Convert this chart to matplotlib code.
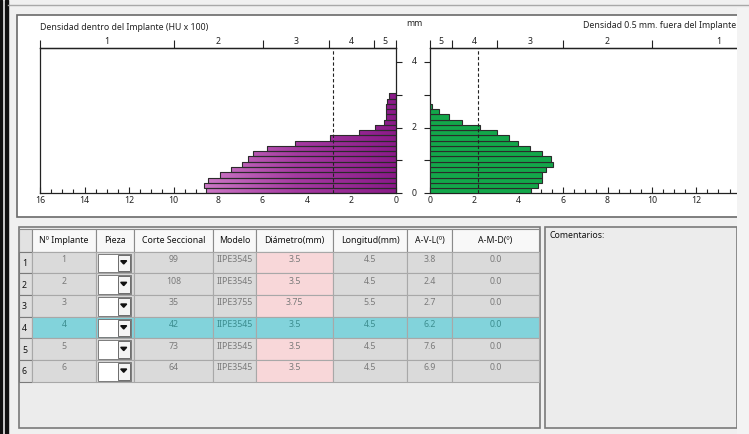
import matplotlib
matplotlib.use("Agg")
import matplotlib.pyplot as plt
import numpy as np
from matplotlib.patches import Rectangle, Polygon, PathPatch
from matplotlib.path import Path
from matplotlib.colors import LinearSegmentedColormap
from matplotlib.transforms import blended_transform_factory

plt.rcParams['font.family'] = ['Noto Sans', 'DejaVu Sans']

# ---- data ----
# density inside the implant (HU x 100), from the bottom slice upward
inside = [8.55, 8.63, 8.43, 7.90, 7.40, 6.90, 6.64, 6.41, 5.81, 4.53,
          2.95, 1.68, 0.94, 0.54, 0.46, 0.46, 0.46, 0.42, 0.33]
# density 0.5 mm outside the implant
outside = [4.55, 4.85, 5.03, 5.03, 5.23, 5.53, 5.44, 5.03, 4.50, 3.98,
           3.56, 3.03, 2.25, 1.46, 0.87, 0.39, 0.08]
slice_mm = 0.16
mean_inside = 2.82
mean_outside = 2.15
band_edges = [0, 1, 3, 6, 10, 16]
band_centers = [0.5, 2, 4.5, 8, 13]
band_labels = ['5', '4', '3', '2', '1']

cols = ['Nº Implante', 'Pieza', 'Corte Seccional', 'Modelo', 'Diámetro(mm)',
        'Longitud(mm)', 'A-V-L(º)', 'A-M-D(º)']
implante = ['1', '2', '3', '4', '5', '6']
corte = ['99', '108', '35', '42', '73', '64']
modelo = ['IIPE3545', 'IIPE3545', 'IIPE3755', 'IIPE3545', 'IIPE3545', 'IIPE3545']
diametro = ['3.5', '3.5', '3.75', '3.5', '3.5', '3.5']
longitud = ['4.5', '4.5', '5.5', '4.5', '4.5', '4.5']
avl = ['3.8', '2.4', '2.7', '6.2', '7.6', '6.9']
amd = ['0.0', '0.0', '0.0', '0.0', '0.0', '0.0']
selected = 3

W, H = 749, 434
FS = 6.3


def rect(x0, y0, x1, y1):
    return [x0 / W, 1 - y1 / H, (x1 - x0) / W, (y1 - y0) / H]


fig = plt.figure(figsize=(W / 100, H / 100), dpi=100, facecolor='#f0f0f0')

# background canvas in pixel coordinates
bg = fig.add_axes([0, 0, 1, 1], zorder=0)
bg.set_xlim(0, W)
bg.set_ylim(H, 0)
bg.axis('off')
bg.add_patch(Rectangle((0, 0), 2, H, color='#111111'))
bg.add_patch(Rectangle((5, 0), 2.5, H, color='#111111'))
bg.plot([8, W], [4.5, 4.5], color='#a8a8a8', lw=1)
bg.add_patch(Rectangle((17, 15), 730, 202, facecolor='white', edgecolor='#6a6a6a', lw=1.2))

# ---- table ----
xe = [19, 32, 96, 134, 213, 256, 333, 407, 452, 539]
ye = [229, 251.7, 273.3, 295, 316.7, 338.3, 360, 381.7]
bg.add_patch(Rectangle((19, 227), 521, 201, facecolor='#ececec', edgecolor='#7a7a7a', lw=1.2))
bg.add_patch(Rectangle((545, 227), 192, 201, facecolor='#ececec', edgecolor='#7a7a7a', lw=1.2))
bg.text(549, 236, 'Comentarios:', fontsize=FS, va='center', ha='left', color='#111111')

bg.add_patch(Rectangle((xe[0], ye[0]), xe[1] - xe[0], ye[1] - ye[0],
                       facecolor='#e2e2e2', edgecolor='#8a8a8a', lw=0.8))
for j, c in enumerate(cols):
    bg.add_patch(Rectangle((xe[j + 1], ye[0]), xe[j + 2] - xe[j + 1], ye[1] - ye[0],
                           facecolor='#f8f8f8', edgecolor='#8a8a8a', lw=0.8))
    bg.text((xe[j + 1] + xe[j + 2]) / 2, (ye[0] + ye[1]) / 2, c, fontsize=FS,
            ha='center', va='center', color='#111111')

rows = list(zip(implante, corte, modelo, diametro, longitud, avl, amd))
for i, r in enumerate(rows):
    y0, y1 = ye[i + 1], ye[i + 2]
    bg.add_patch(Rectangle((xe[0], y0), xe[1] - xe[0], y1 - y0,
                           facecolor='#dedede', edgecolor='#7a7a7a', lw=0.8))
    bg.text(xe[0] + 3, (y0 + y1) / 2 + 1, str(i + 1), fontsize=FS, ha='left',
            va='center', color='#111111')
    vals = [r[0], None, r[1], r[2], r[3], r[4], r[5], r[6]]
    for j, v in enumerate(vals):
        x0, x1 = xe[j + 1], xe[j + 2]
        if i == selected:
            fc, tc = '#82d3db', '#3c8d8f'
        elif j == 4:
            fc, tc = '#f8d7d9', '#7a7a7a'
        else:
            fc, tc = '#dadada', '#7a7a7a'
        bg.add_patch(Rectangle((x0, y0), x1 - x0, y1 - y0, facecolor=fc,
                               edgecolor='#a8a8a8', lw=0.8))
        if v is None:
            # combo box with its drop-down button
            bg.add_patch(Rectangle((x0 + 1.5, y0 + 2), 33, y1 - y0 - 3,
                                   facecolor='white', edgecolor='#6a6a6a', lw=0.6))
            bg.add_patch(Rectangle((x0 + 22, y0 + 3), 11.5, y1 - y0 - 5,
                                   facecolor='#f4f4f4', edgecolor='#555555', lw=0.6))
            cx, cy = x0 + 27.7, y0 + 10.5
            bg.add_patch(Polygon([[cx - 3, cy - 1.5], [cx + 3, cy - 1.5], [cx, cy + 1.8]],
                                 closed=True, color='#111111'))
        else:
            bg.text((x0 + x1) / 2, (y0 + y1) / 2 - 3, v, fontsize=FS,
                    ha='center', va='center', color=tc)

# ---- charts ----
top_px, bot_px = 47.7, 193.3
ymax = (bot_px - top_px) / 32.9
axl = fig.add_axes(rect(40, top_px, 396, bot_px), zorder=2)
axr = fig.add_axes(rect(430, top_px, 785, bot_px), zorder=2)

y_in = np.arange(len(inside)) * slice_mm
y_out = np.arange(len(outside)) * slice_mm

bars = axl.barh(y_in, inside, height=slice_mm, align='edge', facecolor='none',
                edgecolor='#2b2b2b', lw=0.8, zorder=3)
paths = [b.get_path().transformed(b.get_patch_transform()) for b in bars]
clip = PathPatch(Path.make_compound_path(*paths), transform=axl.transData,
                 facecolor='none', edgecolor='none')
axl.add_patch(clip)
purple = LinearSegmentedColormap.from_list('pur', ['#8a1a88', '#a53aa1', '#d07ec9'])
grad = np.linspace(0, 1, 256).reshape(1, -1)
im = axl.imshow(grad, extent=[0, 9, 0, 3.2], aspect='auto', cmap=purple,
                origin='lower', zorder=2)
im.set_clip_path(clip)

axr.barh(y_out, outside, height=slice_mm, align='edge', color='#13a74a',
         edgecolor='#2b2b2b', lw=0.8, zorder=3)

axl.axvline(mean_inside, color='#222222', ls=(0, (3, 2)), lw=0.8, zorder=4)
axr.axvline(mean_outside, color='#222222', ls=(0, (3, 2)), lw=0.8, zorder=4)

axl.set_xlim(16, 0)
axr.set_xlim(0, 16)
for ax, last in ((axl, 16), (axr, 12)):
    ax.set_ylim(0, ymax)
    ax.set_facecolor('none')
    for s in ax.spines.values():
        s.set_color('#222222')
        s.set_linewidth(0.9)
    ax.set_xticks(np.arange(0, last + 1, 2))
    ax.set_xticks(np.arange(0, 16.5, 0.5), minor=True)
    ax.tick_params(axis='x', which='major', direction='in', length=4, width=0.8,
                   labelsize=FS, pad=2, colors='#222222')
    ax.tick_params(axis='x', which='minor', direction='in', length=3, width=0.8,
                   colors='#222222')
    ax.set_yticks(np.arange(0, 5, 1))
    ax.set_yticklabels([])
    sec = ax.secondary_xaxis('top')
    sec.set_xticks(band_edges)
    sec.set_xticklabels([''] * len(band_edges))
    sec.set_xticks(band_centers, band_labels, minor=True)
    sec.tick_params(which='major', direction='out', length=6, width=0.8, colors='#222222')
    sec.tick_params(which='minor', length=0, labelsize=FS, pad=1, colors='#222222')
    sec.spines['top'].set_linewidth(0.9)

axl.yaxis.tick_right()
axl.tick_params(axis='y', direction='out', length=4, width=0.8, colors='#222222')
axr.tick_params(axis='y', direction='out', length=4, width=0.8, colors='#222222')

tr = blended_transform_factory(fig.transFigure, axl.transData)
for v in [0, 2, 4]:
    fig.text(414 / W, v, str(v), transform=tr, fontsize=FS, ha='center',
             va='center', color='#222222')
fig.text(414 / W, 1 - 24 / H, 'mm', fontsize=FS, ha='center', va='center', color='#222222')
fig.text(40 / W, 1 - 27 / H, 'Densidad dentro del Implante (HU x 100)', fontsize=FS,
         ha='left', va='center', color='#222222')
fig.text(736 / W, 1 - 26 / H, 'Densidad 0.5 mm. fuera del Implante', fontsize=FS,
         ha='right', va='center', color='#222222', zorder=11)

# right edge of the window cuts the second chart
fig.add_artist(Rectangle((737 / W, 0), 12 / W, 1 - 8 / H, transform=fig.transFigure,
                         facecolor='#f3f3f3', edgecolor='none', zorder=10))

fig.savefig('out.png', dpi=100, facecolor=fig.get_facecolor())
